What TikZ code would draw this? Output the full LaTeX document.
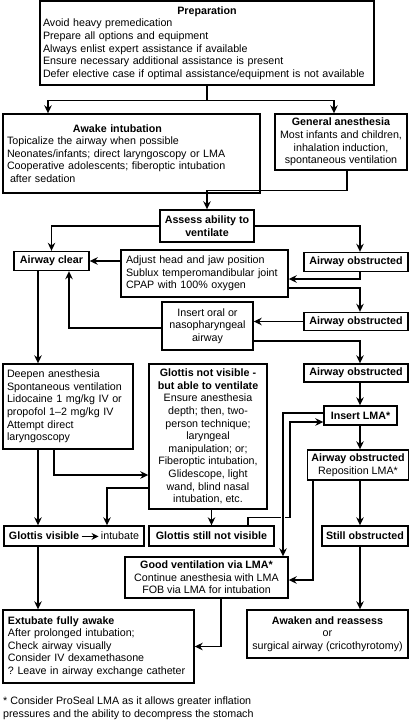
\documentclass[tikz,border=0pt]{standalone}
\usepackage{fontspec}
\setmainfont{Liberation Sans}
\usetikzlibrary{
  positioning,
  arrows.meta
}

\begin{document}
\begin{tikzpicture}[
  x=1pt, y=-1pt,
  font=\fontsize{10.7}{12.6}\selectfont\frenchspacing,
  box/.style={
    rectangle,
    draw=black,
    line width=1.4pt,
    inner xsep=4pt,
    inner ysep=2pt,
    align=center
  },
  head/.style={
    box,
    font=\fontsize{10.7}{12.6}\selectfont\bfseries,
    minimum height=19pt
  },
  arrow/.style={
    -{Stealth[length=8pt,width=7.5pt]},
    line width=1.3pt,
    draw=black
  },
  crossing/.style={
    preaction={draw=white, line width=4.5pt, arrows=-, shorten <=3pt, shorten >=3pt}
  }
]

\useasboundingbox (0,0) rectangle (412,720);

% Start
\node[box, align=left, inner xsep=3pt, text width=328pt, minimum height=84pt] (prep) at (207,43) {\makebox[\linewidth]{\textbf{Preparation}}\\Avoid heavy premedication\\Prepare all options and equipment\\Always enlist expert assistance if available\\Ensure necessary additional assistance is present\\Defer elective case if optimal assistance/equipment is not available};
\node[box, align=left, text width=249pt, minimum height=79pt] (awake) at (131.5,153.5) {\hspace*{66pt}\textbf{Awake intubation}\\Topicalize the airway when possible\\Neonates/infants; direct laryngoscopy or LMA\\Cooperative adolescents; fiberoptic intubation\\\hspace*{3pt}after sedation};
\node[box, minimum width=132pt, minimum height=56pt] (ga) at (341,142) {\textbf{General anesthesia}\\Most infants and children,\\inhalation induction,\\spontaneous ventilation};
\node[head, minimum width=94pt, minimum height=32pt] (assess) at (207,226) {Assess ability to\\ventilate};

% Airway steps
\coordinate (rcol) at (360,0);
\node[head, minimum width=75pt] (clear) at (51.5,261) {Airway clear};
\node[head, minimum width=104pt] (obs1) at (356,262) {Airway obstructed};
\node[box, align=left, inner xsep=5pt, text width=157pt, minimum height=47pt] (adjust) at (204.5,273.5) {Adjust head and jaw position\\Sublux temperomandibular joint\\CPAP with 100\% oxygen};
\node[head, minimum width=104pt, minimum height=18pt] (obs2) at (356,321.5) {Airway obstructed};
\node[box, minimum width=91pt, minimum height=48pt] (oral) at (207.5,326) {Insert oral or\\nasopharyngeal\\airway};
\node[head, minimum width=104pt, minimum height=18pt] (obs3) at (356,373) {Airway obstructed};

% Laryngoscopy
\node[box, align=left, text width=122pt, minimum height=85pt] (deepen) at (68,406.5) {Deepen anesthesia\\Spontaneous ventilation\\Lidocaine 1 mg/kg IV or\\propofol 1--2 mg/kg IV\\Attempt direct\\laryngoscopy};
\node[box, minimum width=118pt, minimum height=145pt] (notvis) at (208,436.5) {\textbf{Glottis not visible -}\\\textbf{but able to ventilate}\\Ensure anesthesia\\depth; then, two-\\person technique;\\laryngeal\\manipulation; or;\\Fiberoptic intubation,\\Glidescope, light\\wand, blind nasal\\intubation, etc.};
\node[head, minimum width=73pt] (lma) at (360.5,415.5) {Insert LMA*};
\node[box, minimum width=100pt, minimum height=30pt] (repos) at (358,465) {\textbf{Airway obstructed}\\Reposition LMA*};
\node[box, minimum width=140pt, minimum height=20pt] (visible) at (74,536) {\textbf{Glottis visible}\,\tikz[baseline=-0.6ex]\draw[-{Stealth[length=7pt,width=7pt]}, line width=1.2pt] (0pt,0pt) -- (17pt,0pt);\,intubate};
\node[head, minimum width=125pt, minimum height=20pt] (stillnot) at (211.5,536) {Glottis still not visible};
\node[head, minimum width=86pt, minimum height=20pt] (stillobs) at (365,536) {Still obstructed};

% Outcomes
\node[box, minimum width=163pt, minimum height=41pt] (goodvent) at (206.5,577.5) {\textbf{Good ventilation via LMA*}\\Continue anesthesia with LMA\\FOB via LMA for intubation};
\node[box, align=left, inner xsep=5pt, text width=181pt, minimum height=73pt] (extubate) at (98.5,646.5) {\textbf{Extubate fully awake}\\After prolonged intubation;\\Check airway visually\\Consider IV dexamethasone\\?\ Leave in airway exchange catheter};
\node[box, minimum width=161pt, minimum height=48pt] (awaken) at (327.5,634) {\textbf{Awaken and reassess}\\or\\surgical airway (cricothyrotomy)};
\node[anchor=north west, align=left, inner sep=0pt] (note) at (3,697) {* Consider ProSeal LMA as it allows greater inflation\\pressures and the ability to decompress the stomach};

% Top branches
\draw[arrow] (prep.south) -- ++(0,15) -| ([xshift=-83.5pt]awake.north);
\draw[arrow] (prep.south) -- ++(0,15) -| ([xshift=-7pt]ga.north);
\draw[arrow] ([xshift=6pt]ga.south) -- ++(0,20) -| (assess.north);
\draw[arrow] (assess.west) -| (clear.north);
\draw[arrow] (assess.east) -| (rcol |- obs1.north);

% Airway manoeuvres
\draw[arrow] (adjust.west |- clear) -- (clear.east);
\draw[arrow] (rcol |- obs1.south) |- ([yshift=-5.5pt]adjust.east);
\draw[arrow] ([yshift=-14.5pt]adjust.east) -| (rcol |- obs2.north);
\draw[arrow] (obs2.west) -- (obs2.west -| oral.east);
\draw[arrow] ([yshift=-2pt]oral.west) -| ([xshift=17.5pt]clear.south);
\draw[arrow] ([yshift=-15pt]oral.east) -| (rcol |- obs3.north);
\draw[arrow] ([xshift=-13.5pt]clear.south) -- ([xshift=-13.5pt]clear.south |- deepen.north);

% Right column
\draw[arrow] (rcol |- obs3.south) -- (rcol |- lma.north);
\draw[arrow] (rcol |- lma.south) -- (rcol |- repos.north);
\draw[arrow] (rcol |- repos.south) -- (rcol |- stillobs.north);
\draw[arrow] (rcol |- stillobs.south) -- (rcol |- awaken.north);

% Laryngoscopy paths
\draw[arrow] ([xshift=-14pt]deepen.south) |- ([yshift=-38.5pt]notvis.west);
\draw[arrow] ([yshift=-51.5pt]notvis.west) -| ([xshift=33pt]visible.north);
\draw[arrow] ([xshift=-30pt]deepen.south) -- ([xshift=-30pt]deepen.south |- visible.north);
\draw[arrow] (notvis.south -| stillnot.north) -- (stillnot.north);
\draw[arrow] ([xshift=36.5pt]stillnot.north) -- ++(0,-8) -- ++(42,0) |- ([yshift=-6.5pt]lma.west);
\draw[arrow, crossing] ([yshift=2.5pt]lma.west) -| ([xshift=76.5pt]goodvent.north);
\draw[arrow] ([xshift=-45pt]repos.south) |- ([yshift=-2.5pt]goodvent.east);

% Exits
\draw[arrow] ([xshift=-36pt]visible.south) -- ([xshift=-36pt]visible.south |- extubate.north);
\draw[arrow] ([xshift=14.5pt]goodvent.south) |- (extubate.east);

\end{tikzpicture}
\end{document}
